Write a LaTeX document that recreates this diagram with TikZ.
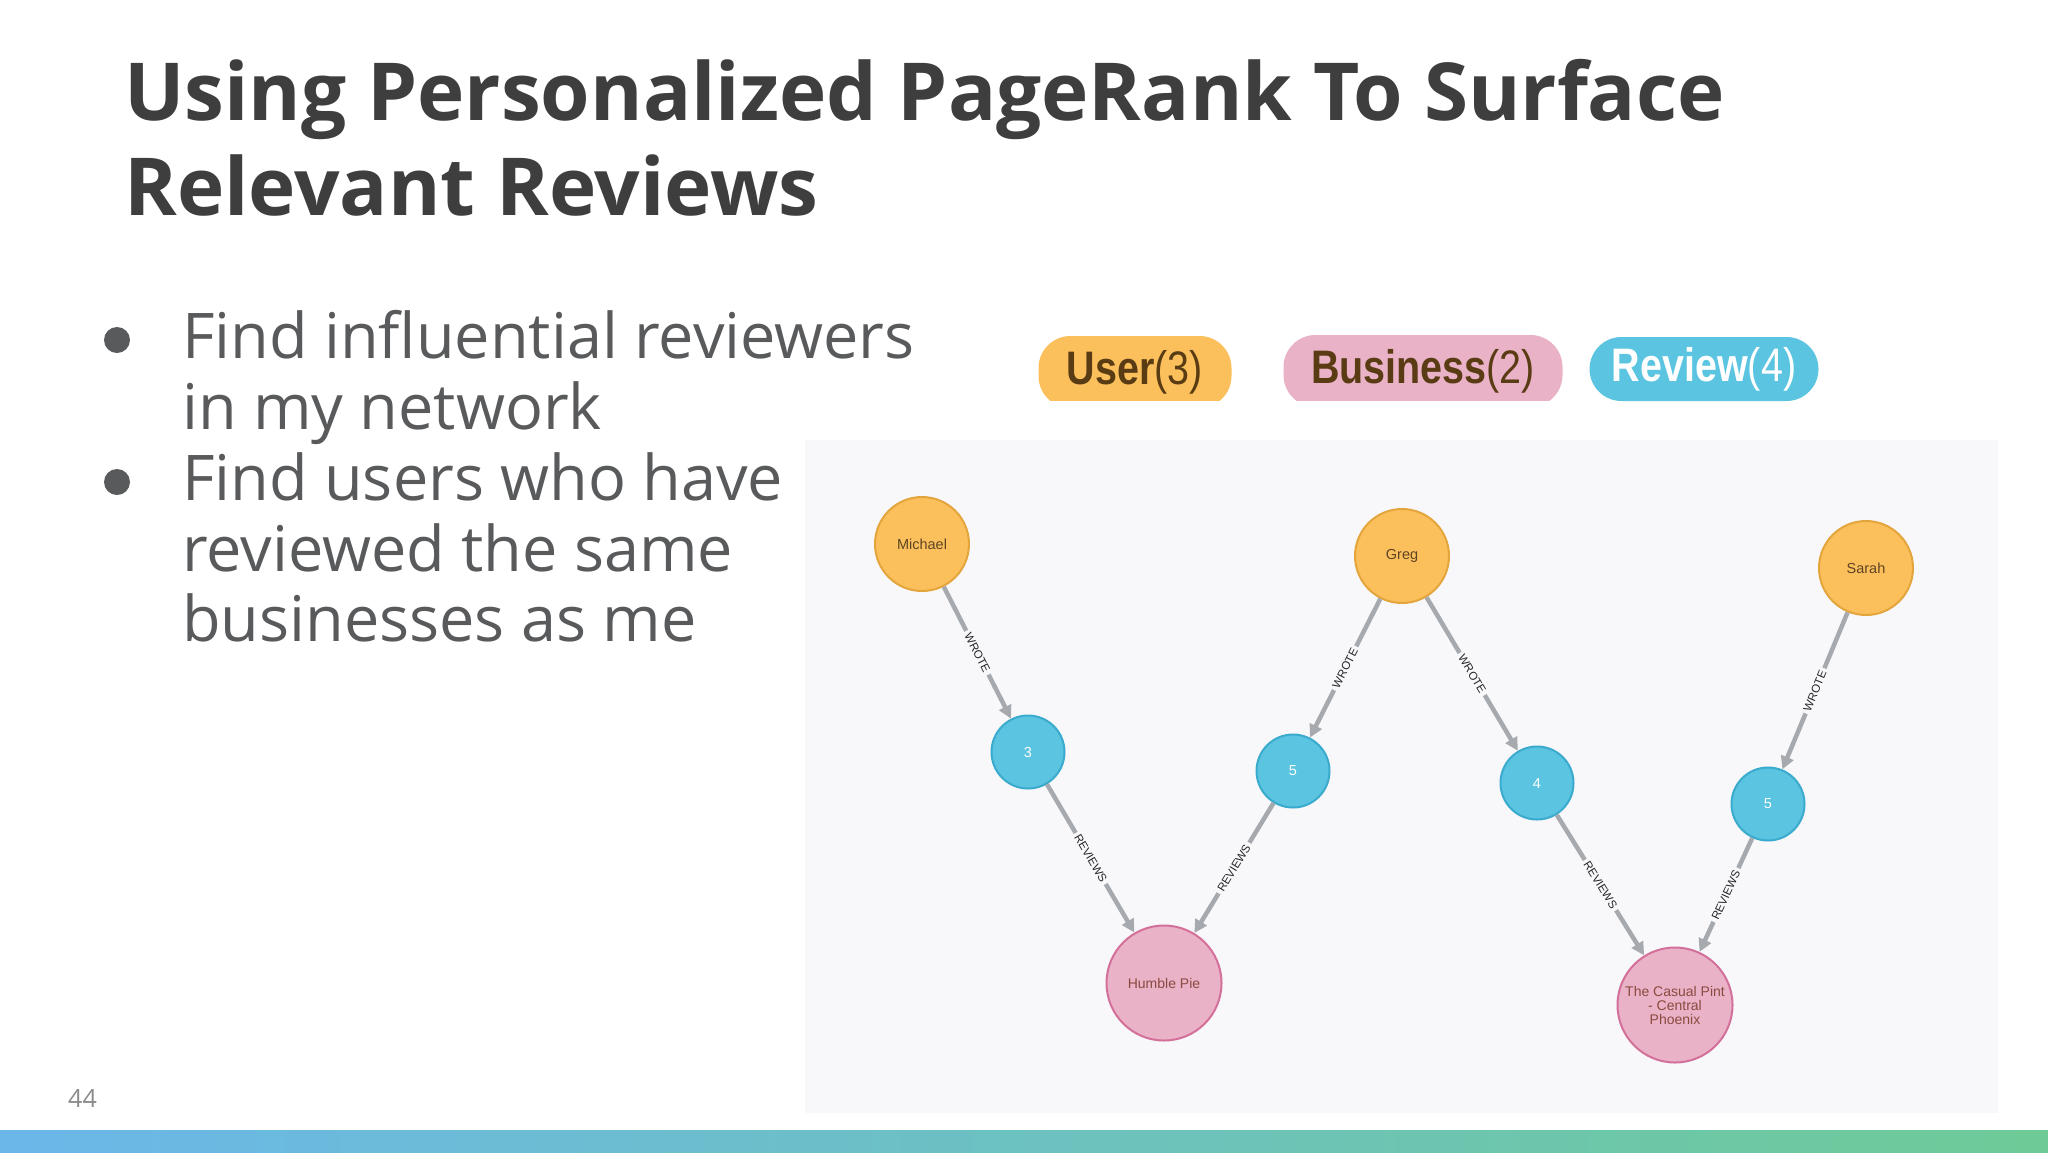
\documentclass[tikz,border=0pt]{standalone}
\usepackage{fontspec}
\usepackage{graphicx}
\setmainfont{Open Sans}
\newfontfamily\gfont{Liberation Sans}
\usetikzlibrary{arrows.meta}
\definecolor{titlec}{HTML}{3E3E3E}
\definecolor{bodyc}{HTML}{595A5C}
\definecolor{panelc}{HTML}{F8F8FB}
\definecolor{userf}{HTML}{FBC05B}
\definecolor{userd}{HTML}{E3A53C}
\definecolor{revf}{HTML}{5BC4E1}
\definecolor{revd}{HTML}{3AAACD}
\definecolor{busf}{HTML}{EAB2C7}
\definecolor{busd}{HTML}{D3709A}
\definecolor{usert}{HTML}{5E4424}
\definecolor{bust}{HTML}{8A4A40}
\definecolor{edgec}{HTML}{A6AAAF}
\definecolor{pillt}{HTML}{5A3C14}
\definecolor{barl}{HTML}{6BB7EA}
\definecolor{barr}{HTML}{6ECB97}
\definecolor{footc}{HTML}{8A8A8A}
\begin{document}
\begin{tikzpicture}[x=1pt,y=-1pt,
  titletext/.style={anchor=base west, inner sep=0, text=titlec, font=\fontsize{80}{95}\selectfont\bfseries},
  bodytext/.style={anchor=base west, inner sep=0, text=bodyc, font=\fontsize{63}{71}\selectfont},
  bulletdot/.style={circle, fill=bodyc, minimum size=26, inner sep=0},
  pill/.style={rounded corners=32, inner sep=0, font=\gfont\fontsize{47}{50}\selectfont},
  gnode/.style={circle, line width=2, inner sep=0, font=\gfont\fontsize{14.5}{14}\selectfont, align=center},
  usernode/.style={gnode, minimum size=94, fill=userf, draw=userd, text=usert},
  revnode/.style={gnode, minimum size=73, fill=revf, draw=revd, text=white},
  busnode/.style={gnode, minimum size=115, fill=busf, draw=busd, text=bust, font=\gfont\fontsize{14}{14}\selectfont},
  rel/.style={draw=edgec, line width=4.5, -{Triangle[length=13,width=13]}},
  lbl/.style={sloped, midway, fill=panelc, inner sep=3, text=black!85, font=\gfont\fontsize{11.5}{12}\selectfont}
]
\useasboundingbox (0,0) rectangle (2048,1152);
\fill[white] (0,0) rectangle (2048,1152);

% title
\node[titletext] (title1) at (124,120) {Using Personalized PageRank To Surface};
\node[titletext] (title2) at (124,215) {Relevant Reviews};

% bullets
\node[bulletdot] (b1) at (117,340) {};
\node[bulletdot] (b2) at (117,482) {};
\node[bodytext] (l1) at (182,358) {Find influential reviewers};
\node[bodytext] (l2) at (182,429) {in my network};
\node[bodytext] (l3) at (182,500) {Find users who have};
\node[bodytext] (l4) at (182,571) {reviewed the same};
\node[bodytext] (l5) at (182,641) {businesses as me};

% legend
\begin{scope}
  \clip (1000,300) rectangle (1580,400);
  \node[pill, fill=userf, minimum width=193, minimum height=72, text=pillt] (puser) at (1135,372)
    {\scalebox{0.84}[1]{\textbf{User}(3)}};
  \node[pill, fill=busf, minimum width=279, minimum height=72, text=pillt] (pbus) at (1423,371)
    {\scalebox{0.84}[1]{\textbf{Business}(2)}};
\end{scope}
\node[pill, fill=revf, minimum width=229, minimum height=64, text=white] (prev) at (1704,369)
  {\scalebox{0.84}[1]{\textbf{Review}(4)}};

% graph panel
\fill[panelc] (805,440) rectangle (1998,1113);

\node[usernode] (mic) at (922,544) {Michael};
\node[revnode] (r3) at (1028,752) {3};
\node[busnode] (hp) at (1164,983) {Humble Pie};
\node[revnode] (r5a) at (1293,771) {5};
\node[usernode] (greg) at (1402,556) {Greg};
\node[revnode] (r4) at (1537,783) {4};
\node[busnode] (cp) at (1675,1005) {The Casual Pint\\- Central\\Phoenix};
\node[revnode] (r5b) at (1768,804) {5};
\node[usernode] (sarah) at (1866,568) {Sarah};

\draw[rel] (mic) -- node[lbl] {WROTE} (r3);
\draw[rel] (r3) -- node[lbl] {REVIEWS} (hp);
\draw[rel] (greg) -- node[lbl] {WROTE} (r5a);
\draw[rel] (r5a) -- node[lbl] {REVIEWS} (hp);
\draw[rel] (greg) -- node[lbl] {WROTE} (r4);
\draw[rel] (r4) -- node[lbl] {REVIEWS} (cp);
\draw[rel] (sarah) -- node[lbl] {WROTE} (r5b);
\draw[rel] (r5b) -- node[lbl] {REVIEWS} (cp);

% footer
\node[anchor=base west, inner sep=0, text=footc, font=\fontsize{25}{25}\selectfont] (pnum) at (68,1107) {44};
\shade[left color=barl, right color=barr] (0,1130) rectangle (2048,1152);
\end{tikzpicture}
\end{document}
